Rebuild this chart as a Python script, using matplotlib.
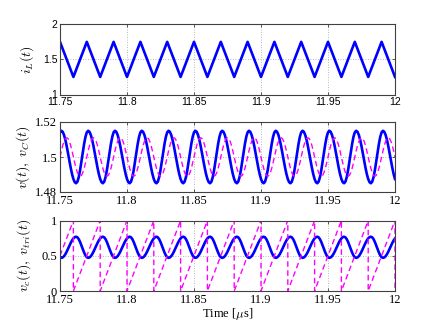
import numpy as np
import matplotlib
matplotlib.use('Agg')
import matplotlib.pyplot as plt

plt.rcParams['mathtext.fontset'] = 'cm'

# ---------------- data ----------------
# inductor current: triangle vertices
iL_t = [11.75, 11.76, 11.77, 11.78, 11.79, 11.80, 11.81, 11.82, 11.83, 11.84,
        11.85, 11.86, 11.87, 11.88, 11.89, 11.90, 11.91, 11.92, 11.93, 11.94,
        11.95, 11.96, 11.97, 11.98, 11.99, 12.00]
iL_v = [1.75, 1.25, 1.75, 1.25, 1.75, 1.25, 1.75, 1.25, 1.75, 1.25,
        1.75, 1.25, 1.75, 1.25, 1.75, 1.25, 1.75, 1.25, 1.75, 1.25,
        1.75, 1.25, 1.75, 1.25, 1.75, 1.25]

# steady-state periodic waveforms, one switching period (0.02 us) sampled every 0.001 us
t_start = 11.75
t_step = 0.001
n_samples = 251
v_period = [1.5141, 1.5150, 1.5144, 1.5126, 1.5098, 1.5062, 1.5021, 1.4979, 1.4938, 1.4902,
            1.4874, 1.4856, 1.4850, 1.4859, 1.4885, 1.4925, 1.4974, 1.5026, 1.5075, 1.5115]
vC_period = [1.5000, 1.5034, 1.5065, 1.5089, 1.5105, 1.5110, 1.5105, 1.5089, 1.5065, 1.5034,
             1.5000, 1.4966, 1.4935, 1.4911, 1.4895, 1.4890, 1.4895, 1.4911, 1.4935, 1.4966]
vc_period = [0.479, 0.470, 0.476, 0.494, 0.522, 0.558, 0.599, 0.641, 0.682, 0.718,
             0.746, 0.764, 0.770, 0.761, 0.735, 0.695, 0.646, 0.594, 0.545, 0.505]

# sawtooth carrier: reset instants, start value
tri_reset_t = [11.76, 11.78, 11.80, 11.82, 11.84, 11.86, 11.88, 11.90, 11.92, 11.94,
               11.96, 11.98, 12.00]
tri_start_v = 0.5
tri_low, tri_high = 0.0, 1.0

xticks = [11.75, 11.8, 11.85, 11.9, 11.95, 12]
xticklabels = ['11.75', '11.8', '11.85', '11.9', '11.95', '12']

# ---------------- build series ----------------
t = t_start + t_step * np.arange(n_samples)
reps = int(np.ceil(n_samples / len(v_period)))
v = np.tile(v_period, reps)[:n_samples]
vC = np.tile(vC_period, reps)[:n_samples]
vc = np.tile(vc_period, reps)[:n_samples]

tri_t = [t_start]
tri_v = [tri_start_v]
for r in tri_reset_t:
    tri_t += [r, r]
    tri_v += [tri_high, tri_low]

# ---------------- figure ----------------
W, H = 436, 328
fig = plt.figure(figsize=(W / 100, H / 100), dpi=100)

left = 60 / W
width = 335 / W
boxes = [(24.3, 94.5), (122.0, 192.0), (220.5, 291.0)]
axes = []
for top, bot in boxes:
    ax = fig.add_axes([left, 1 - bot / H, width, (bot - top) / H])
    axes.append(ax)

blue = (0, 0, 1)
mag = (1, 0, 1)
spine_col = '#404040'

def style(ax, ylim, yticks, yticklabels, font, fsize):
    ax.set_xlim(11.75, 12)
    ax.set_ylim(*ylim)
    ax.set_xticks(xticks)
    ax.set_xticklabels(xticklabels, family=font, fontsize=fsize)
    ax.set_yticks(yticks)
    ax.set_yticklabels(yticklabels, family=font, fontsize=fsize)
    ax.grid(True, linestyle=(0, (1, 2)), color='#a0a0a0', linewidth=0.6)
    ax.tick_params(direction='in', length=2.5, width=0.6, colors=spine_col,
                   top=True, right=True, pad=2, labelcolor='black')
    for s in ax.spines.values():
        s.set_color(spine_col)
        s.set_linewidth(0.8)

ax1, ax2, ax3 = axes
ax1.plot(iL_t, iL_v, color=blue, lw=1.9)
style(ax1, (1, 2), [1, 1.5, 2], ['1', '1.5', '2'], 'Liberation Sans', 7.5)
ax1.set_ylabel(r'$i_L(t)$', fontsize=10, labelpad=5)

ax2.plot(t, v, color=blue, lw=1.9)
ax2.plot(t, vC, color=mag, lw=1.0, dashes=(4, 2.5))
style(ax2, (1.48, 1.52), [1.48, 1.5, 1.52], ['1.48', '1.5', '1.52'], 'Liberation Serif', 9)
ax2.set_ylabel(r'$v(t),\ v_C(t)$', fontsize=10, labelpad=2)

ax3.plot(t, vc, color=blue, lw=1.9)
ax3.plot(tri_t, tri_v, color=mag, lw=1.0, dashes=(4, 2.5))
style(ax3, (0, 1), [0, 0.5, 1], ['0', '0.5', '1'], 'Liberation Serif', 9)
ax3.set_ylabel(r'$v_c(t),\ v_{tri}(t)$', fontsize=10, labelpad=6)
ax3.set_xlabel(r'Time [$\mu$s]', family='Liberation Serif', fontsize=9, labelpad=0)

fig.savefig('out.png', dpi=100)
